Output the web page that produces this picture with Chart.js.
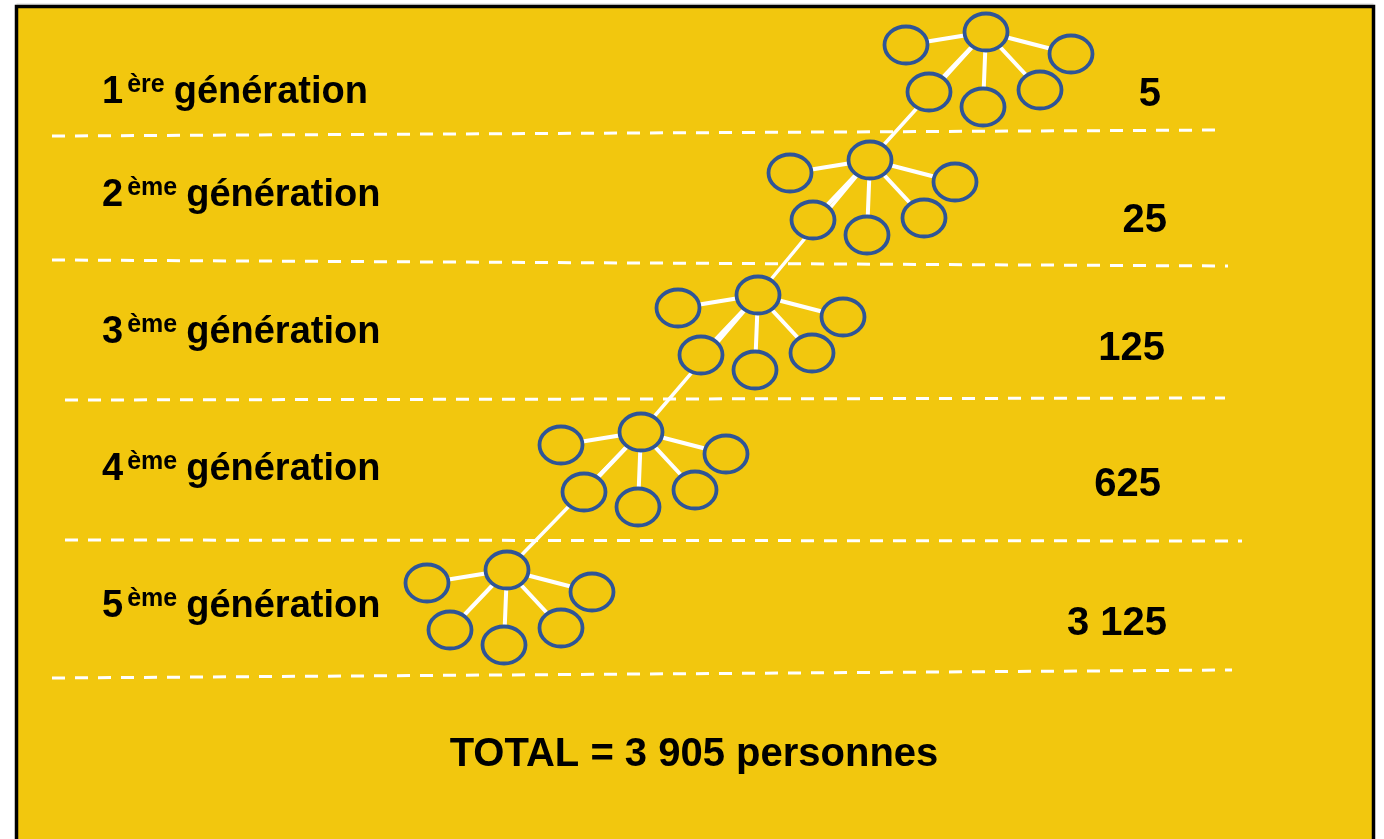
<!DOCTYPE html>
<html>
<head>
<meta charset="utf-8">
<script src="https://cdn.jsdelivr.net/npm/chart.js@4"></script>
<style>
  html, body { margin: 0; padding: 0; background: #fff; }
  #wrap { width: 1384px; height: 839px; position: relative; }
</style>
</head>
<body>
<div id="wrap"><canvas id="chartCanvas"></canvas></div>
<script>
// data
const generationNumbers = ['1', '2', '3', '4', '5'];
const generationSuffixes = ['ère', 'ème', 'ème', 'ème', 'ème'];
const generationWord = 'génération';
const personCounts = [5, 25, 125, 625, 3125];
const totalCount = personCounts.reduce((a, b) => a + b, 0);   // 3 905
const totalUnit = 'personnes';

// layout (page coordinates, y down)
const clusterCenters = [[986, 32], [870, 160], [758, 295], [641, 432], [507, 570]];
const childOffsets = [[-80, 13], [-57, 60], [-3, 75], [54, 58], [85, 22]];
const separators = [
    [[52, 136], [1225, 130]],
    [[52, 260], [1228, 266]],
    [[65, 400], [1225, 398]],
    [[65, 540], [1242, 541]],
    [[52, 678], [1232, 670]]
];
const labelBaselines = [103, 206, 343, 480, 617];
const countBaselines = [106, 232, 360, 496, 635];
const countRightEdges = [1161, 1167, 1165, 1161, 1167];

const YELLOW = '#F2C70E';
const BLUE = '#2F5597';

function fmt(n) {
    return String(n).replace(/\B(?=(\d{3})+(?!\d))/g, ' ');
}

// ellipse marker
const ell = document.createElement('canvas');
ell.width = 52; ell.height = 46;
(function() {
    const c = ell.getContext('2d');
    c.beginPath();
    c.ellipse(26, 23, 21.5, 18.5, 0, 0, Math.PI * 2);
    c.fillStyle = YELLOW;
    c.fill();
    c.lineWidth = 3.8;
    c.strokeStyle = BLUE;
    c.stroke();
})();

const P = (x, y) => ({ x: x, y: y });

const nodes = [];
const spokeSets = [];
clusterCenters.forEach(function(c) {
    nodes.push(P(c[0], c[1]));
    const path = [];
    childOffsets.forEach(function(o) {
        nodes.push(P(c[0] + o[0], c[1] + o[1]));
        path.push(P(c[0], c[1]), P(c[0] + o[0], c[1] + o[1]));
    });
    spokeSets.push(path);
});

const datasets = [];
datasets.push({
    data: nodes, order: 0, showLine: false,
    pointStyle: ell, pointRadius: 21
});
spokeSets.forEach(function(path) {
    datasets.push({
        data: path, order: 1, showLine: true, borderColor: '#fff',
        borderWidth: 4, pointRadius: 0, tension: 0
    });
});
datasets.push({
    data: clusterCenters.map(c => P(c[0], c[1])), order: 2, showLine: true,
    borderColor: '#fff', borderWidth: 3.5, pointRadius: 0, tension: 0
});
separators.forEach(function(s) {
    datasets.push({
        data: [P(s[0][0], s[0][1]), P(s[1][0], s[1][1])], order: 3, showLine: true,
        borderColor: '#fff', borderWidth: 3, borderDash: [13, 10], pointRadius: 0
    });
});

const backdrop = {
    id: 'backdrop',
    beforeDraw(chart) {
        const ctx = chart.ctx;
        const sx = chart.scales.x, sy = chart.scales.y;
        const x0 = sx.getPixelForValue(16.5), x1 = sx.getPixelForValue(1373.5);
        const y0 = sy.getPixelForValue(6.5), y1 = sy.getPixelForValue(850);
        ctx.save();
        ctx.fillStyle = '#fff';
        ctx.fillRect(0, 0, chart.width, chart.height);
        ctx.fillStyle = '#d8d8d8';
        ctx.fillRect(x0, y0 - 3, x1 - x0, 1);
        ctx.fillStyle = YELLOW;
        ctx.fillRect(x0, y0, x1 - x0, y1 - y0);
        ctx.lineWidth = 3.5;
        ctx.strokeStyle = '#000';
        ctx.strokeRect(x0, y0, x1 - x0, y1 - y0);
        ctx.restore();
    }
};

const texts = {
    id: 'texts',
    afterDraw(chart) {
        const ctx = chart.ctx;
        const sx = chart.scales.x, sy = chart.scales.y;
        const font = '"Liberation Sans", Arial, sans-serif';
        ctx.save();
        ctx.fillStyle = '#000';
        ctx.textBaseline = 'alphabetic';
        generationNumbers.forEach(function(num, i) {
            let x = sx.getPixelForValue(102);
            const y = sy.getPixelForValue(labelBaselines[i]);
            ctx.textAlign = 'left';
            ctx.font = 'bold 38px ' + font;
            ctx.fillText(num, x, y);
            x += ctx.measureText(num).width + 4;
            ctx.font = 'bold 25px ' + font;
            ctx.fillText(generationSuffixes[i], x, y - 11);
            x += ctx.measureText(generationSuffixes[i]).width + 9;
            ctx.font = 'bold 38px ' + font;
            ctx.fillText(generationWord, x, y);

            ctx.textAlign = 'right';
            ctx.font = 'bold 40px ' + font;
            ctx.fillText(fmt(personCounts[i]), sx.getPixelForValue(countRightEdges[i]), sy.getPixelForValue(countBaselines[i]));
        });
        ctx.textAlign = 'center';
        ctx.font = 'bold 40px ' + font;
        ctx.fillText('TOTAL = ' + fmt(totalCount) + ' ' + totalUnit,
            sx.getPixelForValue(694), sy.getPixelForValue(766));
        ctx.restore();
    }
};

const chart = new Chart(document.getElementById('chartCanvas').getContext('2d'), {
    type: 'scatter',
    data: { datasets: datasets },
    options: {
        responsive: true,
        maintainAspectRatio: false,
        animation: false,
        events: [],
        layout: { padding: 0, autoPadding: false },
        scales: {
            x: { type: 'linear', min: 0, max: 1384, display: false },
            y: { type: 'linear', min: 0, max: 839, reverse: true, display: false }
        },
        plugins: { legend: { display: false }, tooltip: { enabled: false } }
    },
    plugins: [backdrop, texts]
});
</script>
</body>
</html>
